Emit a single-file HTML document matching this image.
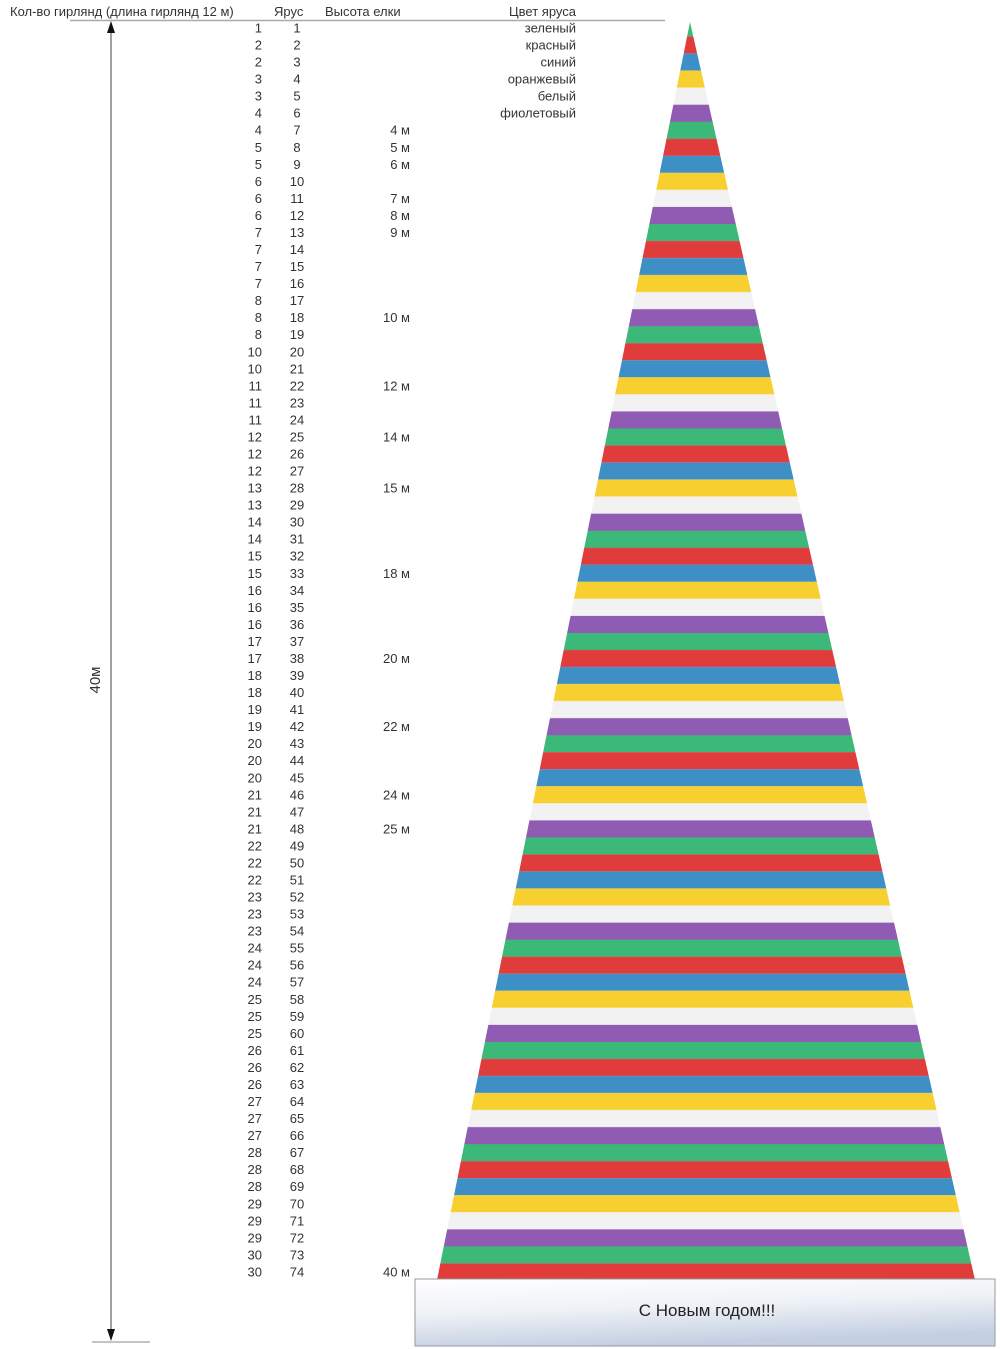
<!DOCTYPE html>
<html><head><meta charset="utf-8"><style>
html,body{margin:0;padding:0;background:#fff;}
svg{display:block;font-family:"Liberation Sans","DejaVu Sans",sans-serif;}
</style></head><body>
<svg width="1000" height="1349" viewBox="0 0 1000 1349" xmlns="http://www.w3.org/2000/svg">
<defs>
<pattern id="st" patternUnits="userSpaceOnUse" x="0" y="19.5" width="1000" height="102.24">
<rect x="0" y="0" width="1000" height="17.04" fill="#3cb878"/>
<rect x="0" y="17.04" width="1000" height="17.04" fill="#e03c3c"/>
<rect x="0" y="34.08" width="1000" height="17.04" fill="#3d8fc6"/>
<rect x="0" y="51.12" width="1000" height="17.04" fill="#f7d030"/>
<rect x="0" y="68.16" width="1000" height="17.04" fill="#f2f2f2"/>
<rect x="0" y="85.2" width="1000" height="17.04" fill="#8f5bb3"/>
</pattern>
<linearGradient id="bx" x1="0" y1="0" x2="0.3" y2="1">
<stop offset="0" stop-color="#ffffff"/><stop offset="0.5" stop-color="#eef1f6"/><stop offset="1" stop-color="#c4d0e2"/>
</linearGradient>
</defs>
<polygon points="690,22 975,1280 437,1280" fill="url(#st)"/>
<rect x="415" y="1279" width="580" height="67" fill="url(#bx)" stroke="#999" stroke-width="1"/>
<text x="707" y="1316" font-size="17" fill="#222" text-anchor="middle">С Новым годом!!!</text>

<line x1="70" y1="20.5" x2="665" y2="20.5" stroke="#aaa" stroke-width="1.5"/>
<line x1="92" y1="1342" x2="150" y2="1342" stroke="#888" stroke-width="1"/>
<line x1="111" y1="30" x2="111" y2="1332" stroke="#444" stroke-width="1"/>
<polygon points="111,21 107,33 115,33" fill="#111"/>
<polygon points="111,1341 107,1329 115,1329" fill="#111"/>
<text x="0" y="0" font-size="15" fill="#333" text-anchor="middle" transform="translate(100,680) rotate(-90)">40м</text>

<g font-size="13" fill="#333">
<text x="10" y="16">Кол-во гирлянд (длина гирлянд 12 м)</text>
<text x="274" y="16">Ярус</text>
<text x="325" y="16">Высота елки</text>
<text x="576" y="16" text-anchor="end">Цвет яруса</text>

<text text-anchor="end" y="15.46"><tspan x="262" dy="17.04">1</tspan><tspan x="262" dy="17.04">2</tspan><tspan x="262" dy="17.04">2</tspan><tspan x="262" dy="17.04">3</tspan><tspan x="262" dy="17.04">3</tspan><tspan x="262" dy="17.04">4</tspan><tspan x="262" dy="17.04">4</tspan><tspan x="262" dy="17.04">5</tspan><tspan x="262" dy="17.04">5</tspan><tspan x="262" dy="17.04">6</tspan><tspan x="262" dy="17.04">6</tspan><tspan x="262" dy="17.04">6</tspan><tspan x="262" dy="17.04">7</tspan><tspan x="262" dy="17.04">7</tspan><tspan x="262" dy="17.04">7</tspan><tspan x="262" dy="17.04">7</tspan><tspan x="262" dy="17.04">8</tspan><tspan x="262" dy="17.04">8</tspan><tspan x="262" dy="17.04">8</tspan><tspan x="262" dy="17.04">10</tspan><tspan x="262" dy="17.04">10</tspan><tspan x="262" dy="17.04">11</tspan><tspan x="262" dy="17.04">11</tspan><tspan x="262" dy="17.04">11</tspan><tspan x="262" dy="17.04">12</tspan><tspan x="262" dy="17.04">12</tspan><tspan x="262" dy="17.04">12</tspan><tspan x="262" dy="17.04">13</tspan><tspan x="262" dy="17.04">13</tspan><tspan x="262" dy="17.04">14</tspan><tspan x="262" dy="17.04">14</tspan><tspan x="262" dy="17.04">15</tspan><tspan x="262" dy="17.04">15</tspan><tspan x="262" dy="17.04">16</tspan><tspan x="262" dy="17.04">16</tspan><tspan x="262" dy="17.04">16</tspan><tspan x="262" dy="17.04">17</tspan><tspan x="262" dy="17.04">17</tspan><tspan x="262" dy="17.04">18</tspan><tspan x="262" dy="17.04">18</tspan><tspan x="262" dy="17.04">19</tspan><tspan x="262" dy="17.04">19</tspan><tspan x="262" dy="17.04">20</tspan><tspan x="262" dy="17.04">20</tspan><tspan x="262" dy="17.04">20</tspan><tspan x="262" dy="17.04">21</tspan><tspan x="262" dy="17.04">21</tspan><tspan x="262" dy="17.04">21</tspan><tspan x="262" dy="17.04">22</tspan><tspan x="262" dy="17.04">22</tspan><tspan x="262" dy="17.04">22</tspan><tspan x="262" dy="17.04">23</tspan><tspan x="262" dy="17.04">23</tspan><tspan x="262" dy="17.04">23</tspan><tspan x="262" dy="17.04">24</tspan><tspan x="262" dy="17.04">24</tspan><tspan x="262" dy="17.04">24</tspan><tspan x="262" dy="17.04">25</tspan><tspan x="262" dy="17.04">25</tspan><tspan x="262" dy="17.04">25</tspan><tspan x="262" dy="17.04">26</tspan><tspan x="262" dy="17.04">26</tspan><tspan x="262" dy="17.04">26</tspan><tspan x="262" dy="17.04">27</tspan><tspan x="262" dy="17.04">27</tspan><tspan x="262" dy="17.04">27</tspan><tspan x="262" dy="17.04">28</tspan><tspan x="262" dy="17.04">28</tspan><tspan x="262" dy="17.04">28</tspan><tspan x="262" dy="17.04">29</tspan><tspan x="262" dy="17.04">29</tspan><tspan x="262" dy="17.04">29</tspan><tspan x="262" dy="17.04">30</tspan><tspan x="262" dy="17.04">30</tspan></text>

<text text-anchor="middle" y="15.46"><tspan x="297" dy="17.04">1</tspan><tspan x="297" dy="17.04">2</tspan><tspan x="297" dy="17.04">3</tspan><tspan x="297" dy="17.04">4</tspan><tspan x="297" dy="17.04">5</tspan><tspan x="297" dy="17.04">6</tspan><tspan x="297" dy="17.04">7</tspan><tspan x="297" dy="17.04">8</tspan><tspan x="297" dy="17.04">9</tspan><tspan x="297" dy="17.04">10</tspan><tspan x="297" dy="17.04">11</tspan><tspan x="297" dy="17.04">12</tspan><tspan x="297" dy="17.04">13</tspan><tspan x="297" dy="17.04">14</tspan><tspan x="297" dy="17.04">15</tspan><tspan x="297" dy="17.04">16</tspan><tspan x="297" dy="17.04">17</tspan><tspan x="297" dy="17.04">18</tspan><tspan x="297" dy="17.04">19</tspan><tspan x="297" dy="17.04">20</tspan><tspan x="297" dy="17.04">21</tspan><tspan x="297" dy="17.04">22</tspan><tspan x="297" dy="17.04">23</tspan><tspan x="297" dy="17.04">24</tspan><tspan x="297" dy="17.04">25</tspan><tspan x="297" dy="17.04">26</tspan><tspan x="297" dy="17.04">27</tspan><tspan x="297" dy="17.04">28</tspan><tspan x="297" dy="17.04">29</tspan><tspan x="297" dy="17.04">30</tspan><tspan x="297" dy="17.04">31</tspan><tspan x="297" dy="17.04">32</tspan><tspan x="297" dy="17.04">33</tspan><tspan x="297" dy="17.04">34</tspan><tspan x="297" dy="17.04">35</tspan><tspan x="297" dy="17.04">36</tspan><tspan x="297" dy="17.04">37</tspan><tspan x="297" dy="17.04">38</tspan><tspan x="297" dy="17.04">39</tspan><tspan x="297" dy="17.04">40</tspan><tspan x="297" dy="17.04">41</tspan><tspan x="297" dy="17.04">42</tspan><tspan x="297" dy="17.04">43</tspan><tspan x="297" dy="17.04">44</tspan><tspan x="297" dy="17.04">45</tspan><tspan x="297" dy="17.04">46</tspan><tspan x="297" dy="17.04">47</tspan><tspan x="297" dy="17.04">48</tspan><tspan x="297" dy="17.04">49</tspan><tspan x="297" dy="17.04">50</tspan><tspan x="297" dy="17.04">51</tspan><tspan x="297" dy="17.04">52</tspan><tspan x="297" dy="17.04">53</tspan><tspan x="297" dy="17.04">54</tspan><tspan x="297" dy="17.04">55</tspan><tspan x="297" dy="17.04">56</tspan><tspan x="297" dy="17.04">57</tspan><tspan x="297" dy="17.04">58</tspan><tspan x="297" dy="17.04">59</tspan><tspan x="297" dy="17.04">60</tspan><tspan x="297" dy="17.04">61</tspan><tspan x="297" dy="17.04">62</tspan><tspan x="297" dy="17.04">63</tspan><tspan x="297" dy="17.04">64</tspan><tspan x="297" dy="17.04">65</tspan><tspan x="297" dy="17.04">66</tspan><tspan x="297" dy="17.04">67</tspan><tspan x="297" dy="17.04">68</tspan><tspan x="297" dy="17.04">69</tspan><tspan x="297" dy="17.04">70</tspan><tspan x="297" dy="17.04">71</tspan><tspan x="297" dy="17.04">72</tspan><tspan x="297" dy="17.04">73</tspan><tspan x="297" dy="17.04">74</tspan></text>

<g text-anchor="end">
<text x="410" y="134.7">4 м</text>
<text x="410" y="151.8">5 м</text>
<text x="410" y="168.8">6 м</text>
<text x="410" y="202.9">7 м</text>
<text x="410" y="219.9">8 м</text>
<text x="410" y="237">9 м</text>
<text x="410" y="322.2">10 м</text>
<text x="410" y="390.3">12 м</text>
<text x="410" y="441.5">14 м</text>
<text x="410" y="492.6">15 м</text>
<text x="410" y="577.8">18 м</text>
<text x="410" y="663">20 м</text>
<text x="410" y="731.1">22 м</text>
<text x="410" y="799.3">24 м</text>
<text x="410" y="833.4">25 м</text>
<text x="410" y="1276.4">40 м</text>
<text x="576" y="32.5">зеленый</text>
<text x="576" y="49.5">красный</text>
<text x="576" y="66.6">синий</text>
<text x="576" y="83.6">оранжевый</text>
<text x="576" y="100.7">белый</text>
<text x="576" y="117.7">фиолетовый</text>
</g>
</g>
</svg>
</body></html>
